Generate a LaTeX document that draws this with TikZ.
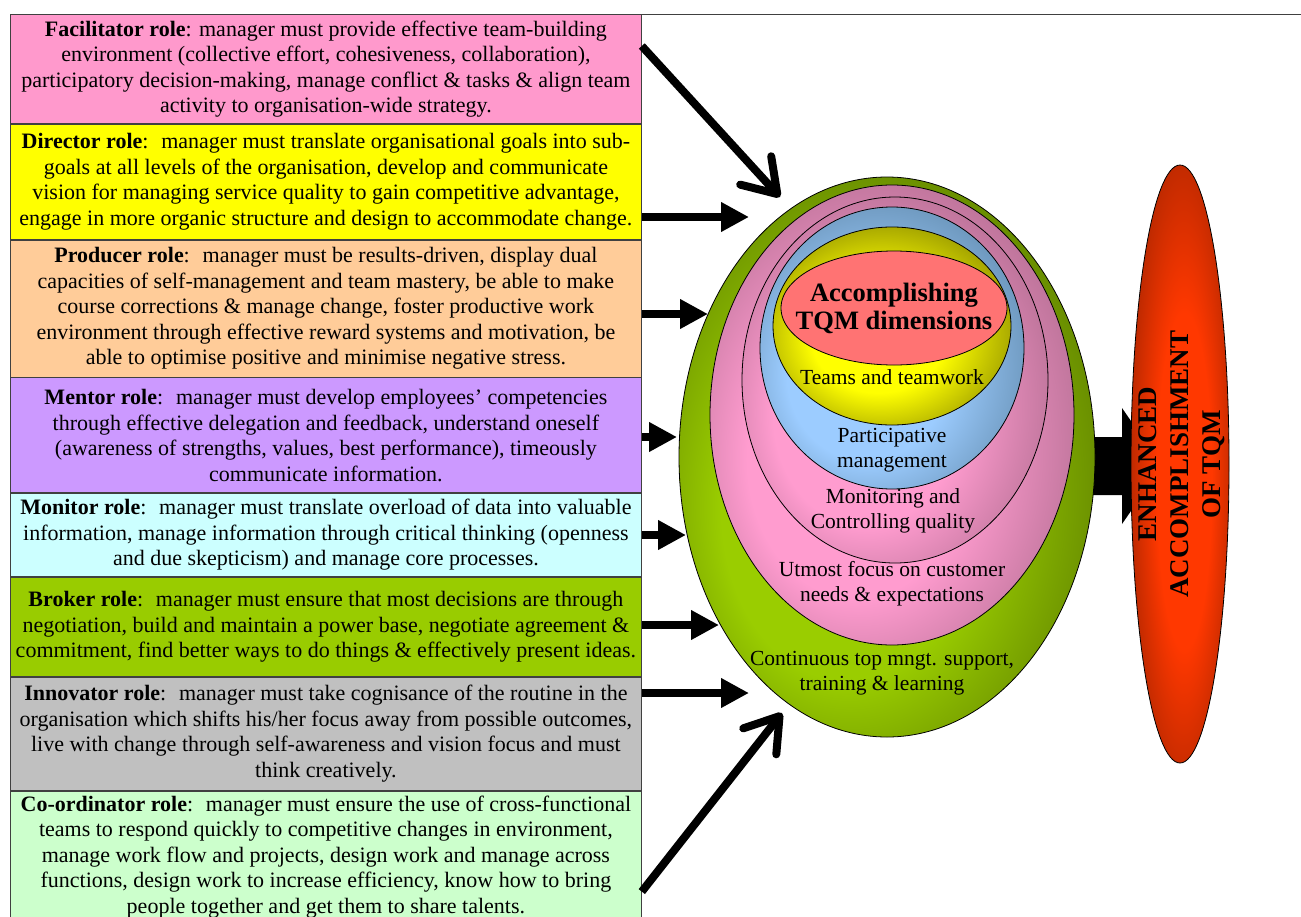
\documentclass[tikz,border=0pt]{standalone}
\usepackage{fontspec}
\setmainfont{Liberation Serif}
\usetikzlibrary{arrows.meta,positioning,shapes.geometric}
\definecolor{rolePink}{HTML}{FF99CC}
\definecolor{roleYellow}{HTML}{FFFF00}
\definecolor{rolePeach}{HTML}{FFCC99}
\definecolor{roleLilac}{HTML}{CC99FF}
\definecolor{roleCyan}{HTML}{CCFFFF}
\definecolor{roleLime}{HTML}{99CC00}
\definecolor{roleGray}{HTML}{C0C0C0}
\definecolor{roleMint}{HTML}{CCFFCC}
\definecolor{ringGreen}{HTML}{9ACD00}
\definecolor{ringGreenDk}{HTML}{668A00}
\definecolor{ringPink}{HTML}{FF9CCF}
\definecolor{ringPinkDk}{HTML}{BC7399}
\definecolor{ringBlue}{HTML}{9CCCFF}
\definecolor{ringBlueDk}{HTML}{6C96BB}
\definecolor{ringYellow}{HTML}{FFFF00}
\definecolor{ringYellowDk}{HTML}{A3A300}
\definecolor{coreRed}{HTML}{FF7373}
\definecolor{goalRed}{HTML}{FF3800}
\definecolor{goalRedDk}{HTML}{B82800}
\pgfdeclareradialshading{shGreen}{\pgfpoint{-7bp}{-7bp}}{color(0bp)=(ringGreen); color(15bp)=(ringGreen); color(30bp)=(ringGreenDk); color(50bp)=(ringGreenDk)}
\pgfdeclareradialshading{shPink}{\pgfpoint{-7bp}{-7bp}}{color(0bp)=(ringPink); color(15bp)=(ringPink); color(30bp)=(ringPinkDk); color(50bp)=(ringPinkDk)}
\pgfdeclareradialshading{shBlue}{\pgfpoint{-7bp}{-7bp}}{color(0bp)=(ringBlue); color(15bp)=(ringBlue); color(30bp)=(ringBlueDk); color(50bp)=(ringBlueDk)}
\pgfdeclareradialshading{shYellow}{\pgfpoint{-4bp}{-4bp}}{color(0bp)=(ringYellow); color(14bp)=(ringYellow); color(28bp)=(ringYellowDk); color(50bp)=(ringYellowDk)}
\pgfdeclareradialshading{shGoal}{\pgfpoint{3bp}{-2bp}}{color(0bp)=(goalRed); color(14bp)=(goalRed); color(28bp)=(goalRedDk); color(50bp)=(goalRedDk)}
\tikzset{
    role/.style={draw=black!75, line width=0.8pt, minimum width=631pt, inner xsep=3pt, inner ysep=0pt,
        align=center, font=\fontsize{22}{25.5}\selectfont},
    ring/.style={ellipse, draw=black, line width=0.8pt, inner sep=0pt, shade},
    ringtext/.style={align=center, font=\fontsize{21.5}{25}\selectfont},
    feed/.style={line width=8pt, -{Triangle[length=28pt,width=28pt]}},
    diagfeed/.style={line width=8pt, -{Straight Barb[length=32pt,width=42pt,round]}}
}
\begin{document}
\begin{tikzpicture}[x=1pt,y=-1pt]
\useasboundingbox (0,0) rectangle (1301,916);
% the eight managerial roles
\node[role,fill=rolePink,minimum height=109pt,anchor=north west] (facil) at (10,14)
    {\textbf{Facilitator role}: manager must provide effective team-building\\
     environment (collective effort, cohesiveness, collaboration),\\
     participatory decision-making, manage conflict \& tasks \& align team\\
     activity to organisation-wide strategy.};
\node[role,fill=roleYellow,minimum height=115pt,below=0pt of facil] (direct)
    {\textbf{Director role}:~ manager must translate organisational goals into sub-\\
     goals at all levels of the organisation, develop and communicate\\
     vision for managing service quality to gain competitive advantage,\\
     engage in more organic structure and design to accommodate change.};
\node[role,fill=rolePeach,minimum height=137pt,below=0pt of direct] (produc)
    {\textbf{Producer role}:~ manager must be results-driven, display dual\\
     capacities of self-management and team mastery, be able to make\\
     course corrections \& manage change, foster productive work\\
     environment through effective reward systems and motivation, be\\
     able to optimise positive and minimise negative stress.};
\node[role,fill=roleLilac,minimum height=115pt,below=0pt of produc] (mentor)
    {\textbf{Mentor role}:~ manager must develop employees' competencies\\
     through effective delegation and feedback, understand oneself\\
     (awareness of strengths, values, best performance), timeously\\
     communicate information.};
\node[role,fill=roleCyan,minimum height=83pt,below=0pt of mentor] (monit)
    {\textbf{Monitor role}:~ manager must translate overload of data into valuable\\
     information, manage information through critical thinking (openness\\
     and due skepticism) and manage core processes.};
\node[role,fill=roleLime,minimum height=99pt,below=0pt of monit] (broker)
    {\textbf{Broker role}:~ manager must ensure that most decisions are through\\
     negotiation, build and maintain a power base, negotiate agreement \&\\
     commitment, find better ways to do things \& effectively present ideas.};
\node[role,fill=roleGray,minimum height=113pt,below=0pt of broker] (innov)
    {\textbf{Innovator role}:~ manager must take cognisance of the routine in the\\
     organisation which shifts his/her focus away from possible outcomes,\\
     live with change through self-awareness and vision focus and must\\
     think creatively.};
\node[role,fill=roleMint,minimum height=132pt,below=0pt of innov] (coord)
    {\textbf{Co-ordinator role}:~ manager must ensure the use of cross-functional\\
     teams to respond quickly to competitive changes in environment,\\
     manage work flow and projects, design work and manage across\\
     functions, design work to increase efficiency, know how to bring\\
     people together and get them to share talents.};
\coordinate (topend) at (1301,14);
\draw[line width=0.8pt,black!75] (facil.north east) -- (topend);

% arrows into the rings
\coordinate (t1) at (780,197);
\coordinate (t2) at (749,217);
\coordinate (t3) at (708,314);
\coordinate (t4) at (677,437);
\coordinate (t5) at (686,535);
\coordinate (t6) at (719,625);
\coordinate (t7) at (749,693);
\coordinate (t8) at (782,713);
\draw[diagfeed] ([yshift=-32pt]facil.north east) -- (t1);
\draw[feed] (direct.east |- t2) -- (t2);
\draw[feed] (produc.east |- t3) -- (t3);
\draw[feed] (mentor.east |- t4) -- (t4);
\draw[feed] (monit.east |- t5) -- (t5);
\draw[feed] (broker.east |- t6) -- (t6);
\draw[feed] (innov.east |- t7) -- (t7);
\draw[diagfeed] ([yshift=-101pt]coord.north east) -- (t8);

% block arrow to the result
\fill[black] (1088,437) -- (1122,437) -- (1122,408) -- (1162,466) -- (1122,524) -- (1122,495) -- (1088,495) -- cycle;

% nested rings
\node[ring,shading=shGreen,minimum width=416pt,minimum height=560pt] (green) at (887,457) {};
\node[ring,shading=shPink,minimum width=364pt,minimum height=460pt] (utmost) at (892,415) {};
\node[ring,shading=shPink,minimum width=306pt,minimum height=366pt] (monring) at (895,380) {};
\node[ring,shading=shBlue,minimum width=264pt,minimum height=282pt] (partring) at (892,348) {};
\node[ring,shading=shYellow,minimum width=238pt,minimum height=198pt] (teamring) at (892,326) {};
\node[ellipse,draw=black,line width=0.8pt,inner sep=0pt,fill=coreRed,minimum width=226pt,minimum height=114pt] (core) at (894,308) {};
\node[align=center,font=\bfseries\fontsize{26.5}{28}\selectfont] (coretxt) at (core.center) {Accomplishing\\TQM dimensions};
\node[ringtext] (teamtxt) at (892,377) {Teams and teamwork};
\node[ringtext] (parttxt) at (892,450) {Participative\\management};
\node[ringtext] (montxt) at (893,511) {Monitoring and\\Controlling quality};
\node[ringtext] (utmtxt) at (892,584) {Utmost focus on customer\\needs \& expectations};
\node[ringtext] (conttxt) at (882,673) {Continuous top mngt. support,\\training \& learning};

% result
\node[ring,shading=shGoal,minimum width=98pt,minimum height=598pt] (goal) at (1180,464) {};
\node[rotate=90,align=center,font=\bfseries\fontsize{27}{32}\selectfont] (goaltxt) at ([xshift=2pt]goal.center)
    {ENHANCED\\ACCOMPLISHMENT\\OF TQM};
\end{tikzpicture}
\end{document}
